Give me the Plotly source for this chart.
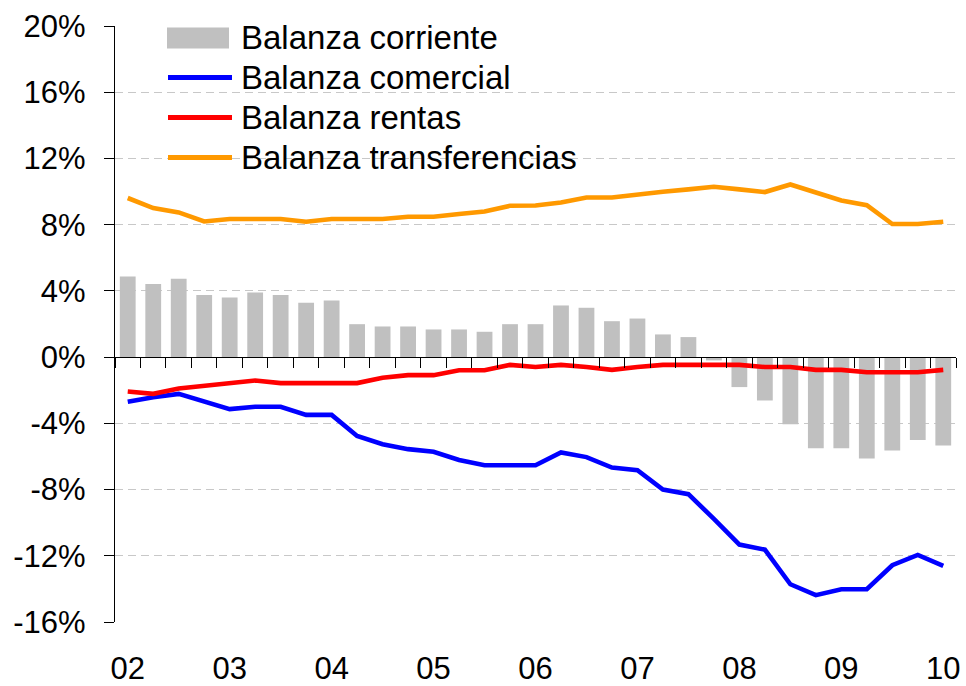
import plotly.graph_objects as go

# ---- data (percent) ----
periods = ["2002T1","2002T2","2002T3","2002T4","2003T1","2003T2","2003T3","2003T4",
           "2004T1","2004T2","2004T3","2004T4","2005T1","2005T2","2005T3","2005T4",
           "2006T1","2006T2","2006T3","2006T4","2007T1","2007T2","2007T3","2007T4",
           "2008T1","2008T2","2008T3","2008T4","2009T1","2009T2","2009T3","2009T4",
           "2010T1"]
corriente = [4.87, 4.41, 4.73, 3.75, 3.60, 3.90, 3.75, 3.28, 3.42, 1.99,
             1.85, 1.85, 1.67, 1.67, 1.53, 1.99, 1.99, 3.12, 2.98, 2.17,
             2.33, 1.37, 1.21, -0.20, -1.81, -2.62, -4.05, -5.50, -5.50, -6.12,
             -5.64, -5.00, -5.34]
comercial = [-2.70, -2.42, -2.22, -2.70, -3.14, -3.00, -3.00, -3.49, -3.49, -4.76,
             -5.26, -5.56, -5.72, -6.21, -6.53, -6.53, -6.53, -5.76, -6.04, -6.67,
             -6.83, -8.00, -8.28, -9.77, -11.32, -11.63, -13.72, -14.38, -14.02, -14.02,
             -12.57, -11.95, -12.61]
rentas = [-2.08, -2.22, -1.90, -1.73, -1.57, -1.41, -1.57, -1.57, -1.57, -1.57,
          -1.25, -1.09, -1.09, -0.79, -0.79, -0.47, -0.60, -0.47, -0.60, -0.77,
          -0.60, -0.47, -0.47, -0.47, -0.47, -0.60, -0.60, -0.77, -0.77, -0.91,
          -0.91, -0.91, -0.77]
transferencias = [9.61, 9.00, 8.74, 8.19, 8.34, 8.34, 8.34, 8.18, 8.34, 8.34,
                  8.34, 8.48, 8.48, 8.64, 8.80, 9.14, 9.16, 9.34, 9.64, 9.64,
                  9.83, 9.99, 10.13, 10.29, 10.13, 9.97, 10.43, 9.97, 9.46, 9.18,
                  8.04, 8.04, 8.18]
year_labels = ["02", "03", "04", "05", "06", "07", "08", "09", "10"]
y_ticks = [-16, -12, -8, -4, 0, 4, 8, 12, 16, 20]

names = ["Balanza corriente", "Balanza comercial", "Balanza rentas", "Balanza transferencias"]
colors = ["#c0c0c0", "#0000ff", "#ff0000", "#ff9900"]

FONT = "Liberation Sans, Arial, sans-serif"
W, H = 966, 686
ML, MR, MT, MB = 115, 10, 26, 64
PW, PH = W - ML - MR, H - MT - MB

n = len(periods)
xs = list(range(n))

fig = go.Figure()
fig.add_trace(go.Bar(x=xs, y=corriente, name=names[0], marker_color=colors[0],
                     marker_line_width=0, xaxis="x", showlegend=False))
for vals, nm, col in [(comercial, names[1], colors[1]), (rentas, names[2], colors[2]),
                      (transferencias, names[3], colors[3])]:
    fig.add_trace(go.Scatter(x=xs, y=vals, name=nm, mode="lines", xaxis="x2",
                             line=dict(color=col, width=4.6), showlegend=False))

# ---- custom legend (pixel -> paper helpers) ----
def px(xp):
    return (xp - ML) / PW

def py(yp):
    return (H - MB - yp) / PH

shapes = [dict(type="rect", xref="paper", yref="paper", x0=px(121), x1=px(592),
               y0=py(180), y1=py(8), fillcolor="white", line_width=0, layer="between")]
annotations = []
row_y = [38, 77.5, 117.5, 157.5]
shapes.append(dict(type="rect", xref="paper", yref="paper", x0=px(167), x1=px(229),
                   y0=py(row_y[0] + 10.5), y1=py(row_y[0] - 10.5),
                   fillcolor=colors[0], line_width=0, layer="above"))
for i in range(1, 4):
    shapes.append(dict(type="line", xref="paper", yref="paper", x0=px(168), x1=px(232),
                       y0=py(row_y[i]), y1=py(row_y[i]),
                       line=dict(color=colors[i], width=5), layer="above"))
for i in range(4):
    annotations.append(dict(xref="paper", yref="paper", x=px(239), y=py(row_y[i]),
                            text=names[i], showarrow=False, xanchor="left",
                            yanchor="middle", font=dict(family=FONT, size=33, color="black")))

fig.update_layout(
    width=W, height=H,
    margin=dict(l=ML, r=MR, t=MT, b=MB, pad=0, autoexpand=False),
    plot_bgcolor="white", paper_bgcolor="white",
    bargap=0.38,
    showlegend=False,
    font=dict(family=FONT, size=31, color="black"),
    xaxis=dict(range=[-0.5, n - 0.5], tickvals=xs[::4], ticktext=year_labels,
               showline=False, showgrid=False, zeroline=False, ticks="",
               automargin=False,
               ticklabelstandoff=25, tickfont=dict(size=31)),
    xaxis2=dict(range=[-0.5, n - 0.5], overlaying="x", anchor="free",
                position=16 / 36, showline=True, linecolor="black", linewidth=1.3,
                ticks="outside", ticklen=10, tickcolor="black", tickwidth=1.2,
                tickvals=[i - 0.5 for i in range(n + 1)], showticklabels=False,
                showgrid=False, zeroline=False, automargin=False),
    yaxis=dict(range=[-16, 20], tickvals=y_ticks, ticktext=[f"{v}%" for v in y_ticks],
               showline=True, linecolor="black", linewidth=1.3,
               ticks="outside", ticklen=10, tickcolor="black", tickwidth=1.2,
               showgrid=True, gridcolor="#c8c8c8", gridwidth=1, griddash="8px,5px",
               zeroline=False, automargin=False,
               ticklabelstandoff=12, tickfont=dict(size=31)),
    shapes=shapes,
    annotations=annotations,
)

fig.write_html(
    "out.html",
    config={"displayModeBar": False},
    post_script="document.body.style.margin='0px';document.body.style.padding='0px';"
                "document.body.style.overflow='hidden';",
)
